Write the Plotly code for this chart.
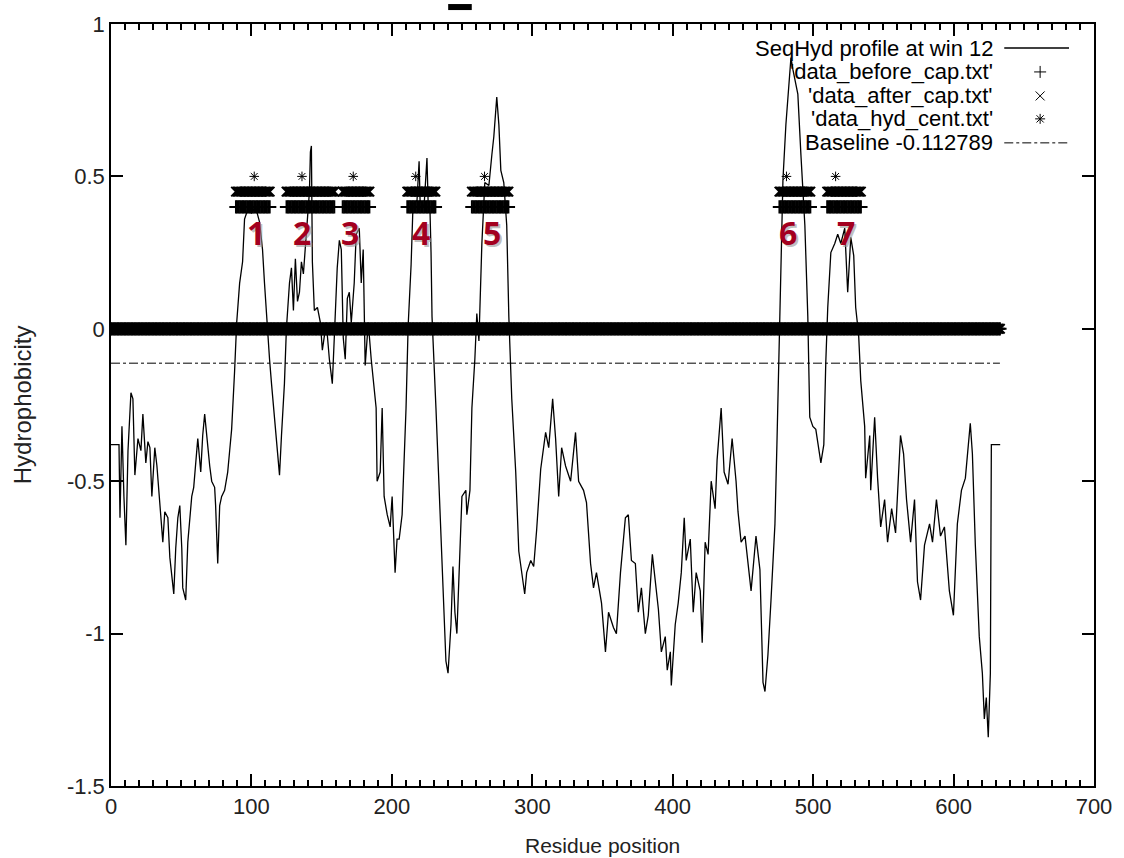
import plotly.graph_objects as go

# ---------------- data ----------------
residue = [
    0, 5.7, 6.4, 7.8, 9.2, 10.6, 12.1, 14.2, 15.6, 17.0,
    19.2, 21.3, 22.7, 24.8, 26.3, 27.7, 29.1, 31.2, 32.7, 34.8,
    36.9, 38.3, 40.5, 41.9, 43.3, 44.7, 46.1, 47.6, 49.0, 50.4,
    51.1, 53.2, 54.7, 56.1, 57.5, 58.9, 60.3, 61.8, 63.9, 65.3,
    66.7, 68.9, 70.3, 71.7, 73.8, 74.5, 76.0, 77.4, 78.8, 80.9,
    83.1, 84.5, 85.9, 88.0, 89.5, 91.6, 93.7, 95.1, 97.3, 100.1,
    102.9, 105.8, 107.9, 109.3, 110.7, 112.9, 114.3, 116.4, 118.6, 120.0,
    121.4, 123.5, 124.9, 127.1, 128.5, 129.9, 131.3, 132.8, 134.2, 135.6,
    137.0, 138.4, 139.9, 141.3, 142.0, 142.7, 143.4, 144.8, 147.0, 149.1,
    150.5, 151.9, 153.3, 155.5, 157.6, 159.0, 161.1, 162.6, 164.0, 165.4,
    166.8, 168.3, 169.7, 171.1, 173.2, 174.6, 176.8, 178.2, 179.6, 181.0,
    183.2, 185.3, 188.1, 188.8, 189.5, 191.7, 193.1, 194.5, 196.7, 198.8,
    200.2, 202.3, 203.7, 205.2, 207.3, 208.7, 210.1, 211.6, 213.7, 215.1,
    217.9, 219.4, 220.1, 222.9, 225.0, 225.8, 227.2, 227.9, 228.6, 231.4,
    233.6, 235.7, 238.5, 240.0, 242.1, 243.5, 244.9, 246.3, 248.5, 249.9,
    252.7, 253.4, 255.6, 257.0, 259.1, 260.5, 262.0, 263.4, 264.1, 266.2,
    269.1, 271.2, 272.6, 274.7, 276.2, 277.6, 279.7, 281.8, 283.3, 285.4,
    288.2, 290.4, 292.5, 294.6, 296.0, 298.9, 301.0, 303.1, 306.0, 309.5,
    311.7, 314.5, 316.6, 318.8, 320.9, 323.7, 327.3, 330.8, 333.0, 336.5,
    338.6, 341.5, 343.6, 345.7, 349.3, 352.1, 354.3, 357.8, 359.9, 362.8,
    366.3, 368.4, 370.6, 373.4, 375.5, 377.7, 380.5, 382.6, 385.5, 387.6,
    389.8, 391.9, 394.7, 396.1, 398.3, 399.0, 401.8, 403.9, 406.1, 408.2,
    409.6, 412.5, 414.6, 416.7, 419.6, 421.0, 423.1, 425.2, 427.4, 430.2,
    431.6, 434.5, 436.6, 439.4, 442.3, 445.1, 446.5, 448.7, 451.5, 455.8,
    459.3, 462.1, 464.3, 465.7, 467.8, 470.0, 472.8, 474.2, 475.6, 477.1,
    478.5, 480.6, 482.0, 484.2, 485.6, 487.0, 489.1, 491.3, 494.1, 496.2,
    497.6, 499.8, 501.9, 505.5, 507.6, 509.0, 510.4, 512.6, 515.4, 517.5,
    519.7, 522.5, 524.6, 526.8, 528.9, 530.3, 532.4, 533.9, 536.7, 537.4,
    540.3, 541.0, 543.8, 545.9, 548.1, 550.9, 553.0, 555.9, 558.7, 562.2,
    564.4, 566.5, 569.4, 572.2, 574.3, 576.5, 579.3, 582.9, 585.0, 587.8,
    590.7, 593.5, 597.0, 599.9, 602.7, 605.6, 608.4, 611.9, 613.4, 615.5,
    618.3, 620.5, 621.9, 623.3, 624.7, 626.2, 626.9, 633.2,
]

hydrophobicity = [
    -0.38, -0.38, -0.62, -0.32, -0.55, -0.71, -0.40, -0.21, -0.23, -0.48,
    -0.36, -0.40, -0.28, -0.44, -0.37, -0.39, -0.55, -0.39, -0.45, -0.58,
    -0.70, -0.60, -0.62, -0.75, -0.82, -0.87, -0.72, -0.62, -0.58, -0.72,
    -0.85, -0.89, -0.70, -0.61, -0.55, -0.52, -0.45, -0.36, -0.47, -0.35,
    -0.28, -0.39, -0.45, -0.50, -0.52, -0.58, -0.77, -0.58, -0.55, -0.53,
    -0.47, -0.40, -0.33, -0.14, 0.02, 0.15, 0.22, 0.36, 0.39, 0.38,
    0.40, 0.35, 0.26, 0.15, 0.04, -0.10, -0.18, -0.29, -0.40, -0.48,
    -0.35, -0.18, 0.00, 0.15, 0.20, 0.06, 0.23, 0.09, 0.12, 0.22,
    0.18, 0.28, 0.36, 0.45, 0.58, 0.60, 0.22, 0.06, 0.07, 0.02,
    -0.07, -0.03, 0.02, -0.10, -0.18, -0.03, 0.20, 0.29, 0.26, -0.03,
    -0.10, 0.10, 0.12, 0.02, 0.15, 0.31, 0.33, 0.15, 0.26, -0.12,
    0.02, -0.10, -0.25, -0.26, -0.50, -0.47, -0.26, -0.55, -0.61, -0.65,
    -0.55, -0.80, -0.69, -0.69, -0.61, -0.46, -0.26, 0.01, 0.21, 0.41,
    0.42, 0.55, 0.42, 0.40, 0.56, 0.42, 0.38, 0.25, 0.04, -0.26,
    -0.53, -0.80, -1.09, -1.13, -0.97, -0.78, -0.93, -1.00, -0.69, -0.55,
    -0.53, -0.61, -0.53, -0.26, -0.10, 0.05, -0.04, 0.14, 0.28, 0.48,
    0.47, 0.57, 0.63, 0.76, 0.67, 0.52, 0.48, 0.34, 0.04, -0.23,
    -0.47, -0.73, -0.80, -0.87, -0.80, -0.76, -0.78, -0.66, -0.46, -0.34,
    -0.39, -0.23, -0.36, -0.55, -0.39, -0.45, -0.50, -0.34, -0.50, -0.53,
    -0.57, -0.77, -0.85, -0.80, -0.90, -1.06, -0.93, -0.98, -1.00, -0.80,
    -0.62, -0.61, -0.76, -0.77, -0.93, -0.85, -1.00, -0.94, -0.74, -0.82,
    -0.92, -1.06, -1.01, -1.12, -1.06, -1.17, -0.97, -0.90, -0.80, -0.62,
    -0.76, -0.69, -0.93, -0.80, -0.86, -1.03, -0.70, -0.74, -0.50, -0.59,
    -0.43, -0.26, -0.47, -0.51, -0.36, -0.50, -0.60, -0.70, -0.68, -0.86,
    -0.68, -0.79, -1.16, -1.19, -1.07, -0.89, -0.64, -0.38, -0.08, 0.24,
    0.49, 0.67, 0.77, 0.89, 0.85, 0.82, 0.77, 0.57, 0.34, 0.04,
    -0.29, -0.32, -0.33, -0.44, -0.38, -0.11, 0.07, 0.25, 0.28, 0.31,
    0.28, 0.33, 0.12, 0.30, 0.24, 0.07, -0.02, -0.17, -0.32, -0.49,
    -0.35, -0.53, -0.29, -0.49, -0.65, -0.56, -0.70, -0.59, -0.67, -0.35,
    -0.41, -0.56, -0.70, -0.56, -0.83, -0.89, -0.71, -0.64, -0.70, -0.56,
    -0.68, -0.65, -0.86, -0.94, -0.64, -0.53, -0.49, -0.31, -0.41, -0.71,
    -1.01, -1.13, -1.28, -1.21, -1.34, -1.13, -0.38, -0.38,
]

seq_length = 633
segment_starts = [89, 125, 165, 211, 257, 476, 510]
segment_ends = [113, 159, 184, 231, 283, 498, 534]
segment_labels = ["1", "2", "3", "4", "5", "6", "7"]
label_positions = [103.6, 136.3, 170.4, 220.8, 271.2, 482.0, 523.2]
label_level = 0.315
hyd_centres = [102, 136, 172.5, 217, 266, 481, 516]

before_cap_level = 0.40
after_cap_level = 0.45
centre_level = 0.50
baseline_value = -0.112789

legend_texts = [
    "SeqHyd profile at win 12",
    "'data_before_cap.txt'",
    "'data_after_cap.txt'",
    "'data_hyd_cent.txt'",
    "Baseline -0.112789",
]

x_ticks = [0, 100, 200, 300, 400, 500, 600, 700]
y_ticks = [1, 0.5, 0, -0.5, -1, -1.5]
y_tick_text = ["1", "0.5", "0", "-0.5", "-1", "-1.5"]

# ---------------- derived ----------------
all_res = list(range(0, seq_length + 1))
seg_res = []
for s, e in zip(segment_starts, segment_ends):
    seg_res.extend(range(s, e + 1))

FONT = "Liberation Sans, Arial, Helvetica, sans-serif"
RED = "#a3001f"

fig = go.Figure()

# hydrophobicity profile
fig.add_trace(go.Scatter(
    x=residue, y=hydrophobicity, mode="lines",
    line=dict(color="black", width=1.3), showlegend=False, hoverinfo="skip"))

# baseline
fig.add_trace(go.Scatter(
    x=[0, seq_length], y=[baseline_value, baseline_value], mode="lines",
    line=dict(color="black", width=1, dash="dashdot"), showlegend=False))

mk_plus = dict(symbol="cross-thin", size=9.5, color="black",
               line=dict(color="black", width=2))
mk_x = dict(symbol="x-thin", size=9.5, color="black",
            line=dict(color="black", width=2))
mk_star = dict(symbol="asterisk", size=8, color="black",
               line=dict(color="black", width=1))

# zero rows (residues outside segments in the data files)
fig.add_trace(go.Scatter(x=all_res, y=[0] * len(all_res), mode="markers",
                         marker=mk_plus, showlegend=False))
fig.add_trace(go.Scatter(x=all_res, y=[0] * len(all_res), mode="markers",
                         marker=mk_x, showlegend=False))
# segment rows
fig.add_trace(go.Scatter(x=seg_res, y=[before_cap_level] * len(seg_res),
                         mode="markers", marker=mk_plus, showlegend=False))
fig.add_trace(go.Scatter(x=seg_res, y=[after_cap_level] * len(seg_res),
                         mode="markers", marker=mk_x, showlegend=False))
fig.add_trace(go.Scatter(x=hyd_centres, y=[centre_level] * len(hyd_centres),
                         mode="markers", marker=mk_star, showlegend=False))

# ---------------- manual legend (paper coords, pixel-sized glyph shapes) ----
rows = [0.9685, 0.9371, 0.9056, 0.8755, 0.8440]
sx0, sx1, smid, tx = 0.9087, 0.9746, 0.9452, 0.8995

shapes = [
    dict(type="rect", xref="paper", yref="paper", x0=0.343, x1=0.367,
         y0=1.0183, y1=1.0262, fillcolor="black", line=dict(width=0)),
    dict(type="line", xref="paper", yref="paper", x0=sx0, x1=sx1,
         y0=rows[0], y1=rows[0], line=dict(color="black", width=1.3)),
    dict(type="line", xref="paper", yref="paper", x0=sx0, x1=sx1,
         y0=rows[4], y1=rows[4], line=dict(color="black", width=1, dash="dashdot")),
]
glyph_paths = [
    "M -6 0 L 6 0 M 0 -6 L 0 6",
    "M -4.5 -4.5 L 4.5 4.5 M -4.5 4.5 L 4.5 -4.5",
    "M -5 0 L 5 0 M 0 -5 L 0 5 M -3.6 -3.6 L 3.6 3.6 M -3.6 3.6 L 3.6 -3.6",
]
for p, yy in zip(glyph_paths, rows[1:4]):
    shapes.append(dict(type="path", xref="paper", yref="paper",
                       xsizemode="pixel", ysizemode="pixel",
                       xanchor=smid, yanchor=yy, path=p,
                       line=dict(color="black", width=1)))

annotations = []
for t, yy in zip(legend_texts, rows):
    annotations.append(dict(x=tx, y=yy, xref="paper", yref="paper", text=t,
                            showarrow=False, xanchor="right", yanchor="middle",
                            font=dict(family=FONT, size=22, color="black")))

# red segment labels with soft shadow
for lab, xp in zip(segment_labels, label_positions):
    annotations.append(dict(x=xp, y=label_level, xref="x", yref="y", text=lab,
                            showarrow=False, xshift=2, yshift=-2,
                            font=dict(family="Open Sans", size=32,
                                      color="rgba(150,150,150,0.6)", weight="bold")))
    annotations.append(dict(x=xp, y=label_level, xref="x", yref="y", text=lab,
                            showarrow=False,
                            font=dict(family="Open Sans", size=32, color=RED,
                                      weight="bold")))

# axis titles
annotations.append(dict(x=0.5, y=-0.0775, xref="paper", yref="paper",
                        text="Residue position", showarrow=False,
                        xanchor="center", yanchor="middle",
                        font=dict(family=FONT, size=21, color="#222")))
annotations.append(dict(x=-0.0903, y=0.5, xref="paper", yref="paper",
                        text="Hydrophobicity", showarrow=False, textangle=-90,
                        xanchor="center", yanchor="middle",
                        font=dict(family=FONT, size=24, color="#222")))

fig.update_layout(
    width=1124, height=858,
    margin=dict(l=111, r=27, t=23, b=72),
    paper_bgcolor="white", plot_bgcolor="white",
    showlegend=False,
    annotations=annotations,
    shapes=shapes,
    xaxis=dict(range=[0, 700], tickvals=x_ticks,
               ticks="inside", ticklen=12, tickwidth=2, tickcolor="black",
               showline=True, linecolor="black", linewidth=1.5,
               mirror="allticks", showgrid=False, zeroline=False,
               tickfont=dict(family=FONT, size=22, color="#222"),
               minor=dict(dtick=10, ticks="inside", ticklen=6, tickwidth=1.5,
                          tickcolor="black", showgrid=False)),
    yaxis=dict(range=[-1.5, 1], tickvals=y_ticks, ticktext=y_tick_text,
               ticks="inside", ticklen=12, tickwidth=2, tickcolor="black",
               showline=True, linecolor="black", linewidth=1.5,
               mirror="allticks", showgrid=False, zeroline=False,
               tickfont=dict(family=FONT, size=22, color="#222")),
)

fig.write_html("out.html")
